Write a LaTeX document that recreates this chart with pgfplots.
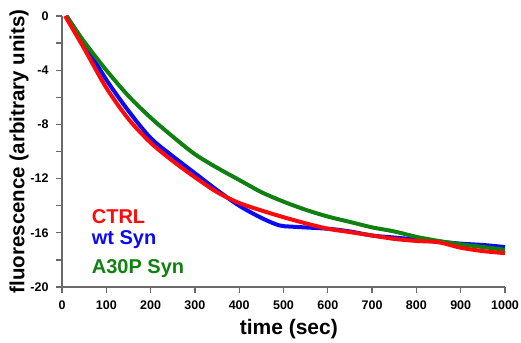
\documentclass[border=0pt]{standalone}
\usepackage{fontspec}
\setmainfont{Liberation Sans}
\usepackage{pgfplots}
\pgfplotsset{compat=1.18}
\definecolor{cred}{RGB}{250,10,10}
\definecolor{cblue}{RGB}{10,10,245}
\definecolor{cgreen}{RGB}{16,128,16}
\definecolor{axgray}{RGB}{105,105,105}
\begin{document}
\begin{tikzpicture}
\begin{axis}[
  scale only axis, width=443pt, height=271pt,
  xmin=0, xmax=1000, ymin=-20, ymax=0,
  axis lines=left,
  axis line style={axgray, line width=1.3pt, -},
  xtick={0,100,...,1000},
  ytick={-20,-16,...,0},
  minor ytick={-18,-14,-10,-6,-2},
  tick align=outside,
  major tick length=6pt, minor tick length=6pt,
  every tick/.style={axgray, line width=1.3pt},
  minor tick style={axgray, line width=1.3pt},
  /pgf/number format/assume math mode=true,
  /pgf/number format/1000 sep={},
  ticklabel style={font=\bfseries\fontsize{12.5}{14}\selectfont, text=black},
  xticklabel style={yshift=-4pt},
  yticklabel style={xshift=-4pt},
  xlabel={time (sec)},
  ylabel={fluorescence (arbitrary units)},
  xlabel style={font=\bfseries\fontsize{21}{24}\selectfont, at={(axis description cs:0.512,-0.155)}, anchor=center},
  ylabel style={font=\bfseries\fontsize{20.5}{24}\selectfont, at={(axis description cs:-0.097,0.5)}, anchor=center},
  clip=false,
]
\addplot[cblue, line width=4pt, line join=round, smooth, tension=0.5] coordinates {
(10,0) (50,-2.0) (100,-4.7) (150,-7.0) (200,-9.0) (250,-10.35) (300,-11.6) (350,-12.85)
(400,-14.0) (450,-14.9) (490,-15.45) (520,-15.55) (600,-15.7) (650,-15.9) (700,-16.2)
(750,-16.35) (800,-16.5) (850,-16.65) (900,-16.8) (950,-16.9) (1000,-17.05)};
\addplot[cgreen, line width=4pt, line join=round, smooth, tension=0.5] coordinates {
(10,0) (50,-1.9) (100,-4.0) (150,-5.9) (200,-7.5) (250,-8.9) (300,-10.2) (350,-11.2)
(400,-12.1) (450,-13.0) (500,-13.7) (550,-14.3) (600,-14.8) (650,-15.2) (700,-15.6)
(750,-15.9) (800,-16.3) (850,-16.6) (900,-16.85) (950,-17.05) (1000,-17.25)};
\addplot[cred, line width=4pt, line join=round, smooth, tension=0.5] coordinates {
(7,0) (50,-2.4) (100,-5.3) (150,-7.6) (200,-9.35) (250,-10.7) (300,-11.9) (350,-13.0)
(400,-13.8) (450,-14.35) (500,-14.85) (550,-15.3) (600,-15.7) (650,-15.95) (700,-16.2)
(750,-16.45) (800,-16.6) (850,-16.7) (900,-17.1) (950,-17.35) (1000,-17.5)};
\node[anchor=base west, inner sep=0pt, text=cred, font=\bfseries\fontsize{20}{24}\selectfont] at (axis cs:67,-15.35) {CTRL};
\node[anchor=base west, inner sep=0pt, text=cblue, font=\bfseries\fontsize{20}{24}\selectfont] at (axis cs:67,-16.83) {wt Syn};
\node[anchor=base west, inner sep=0pt, text=cgreen, font=\bfseries\fontsize{20}{24}\selectfont] at (axis cs:67,-18.97) {A30P Syn};
\end{axis}
\pgfresetboundingbox
\path (current axis.south west) ++(-62pt,-55pt) rectangle ++(521pt,342pt);
\end{tikzpicture}
\end{document}
